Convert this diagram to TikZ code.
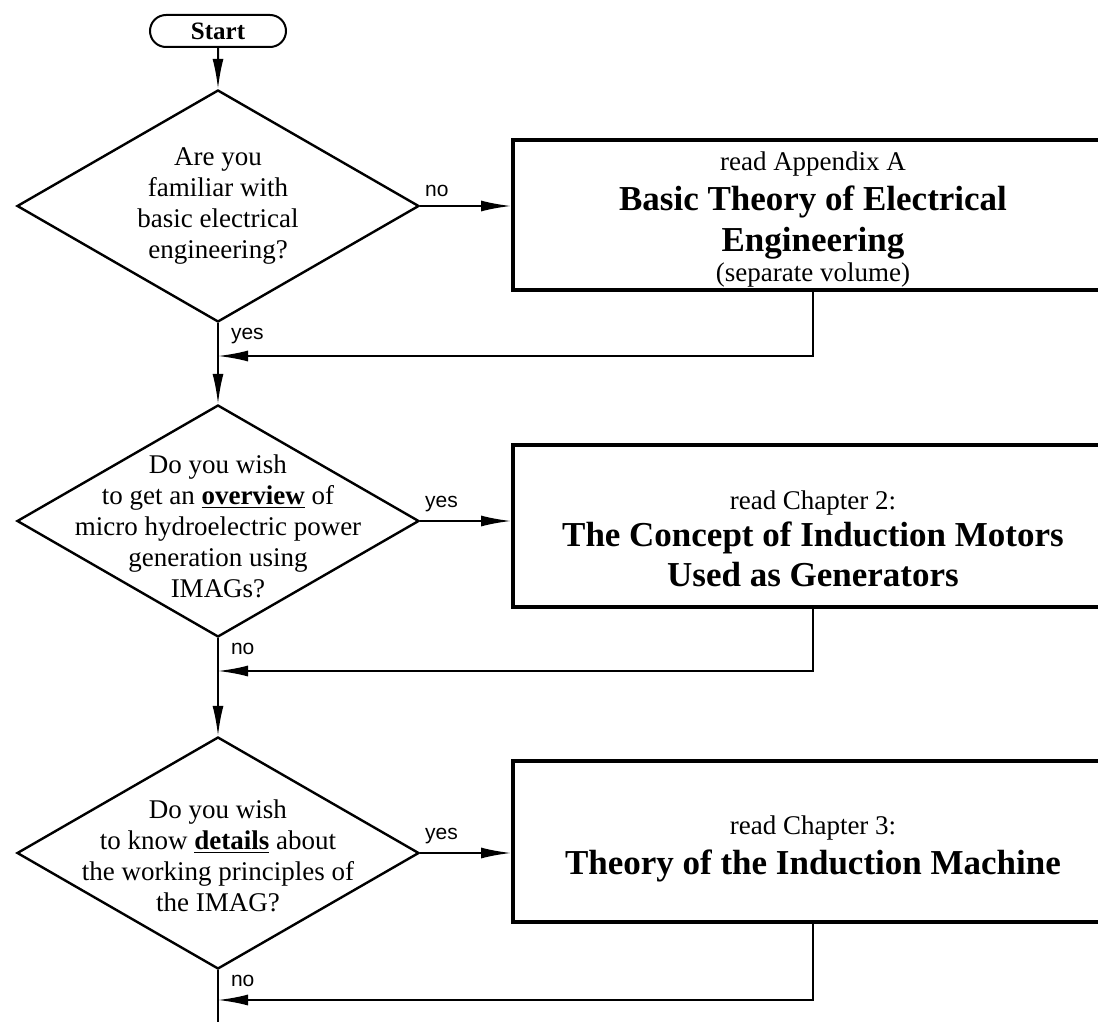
\documentclass[tikz,border=0pt]{standalone}
\usepackage{fontspec}
\setmainfont{Liberation Serif}
\newfontfamily\lblfont{Liberation Sans}
\usetikzlibrary{shapes.geometric,shapes.misc,arrows.meta,positioning}

\newcommand{\qsize}{\fontsize{13.5}{15.5}\selectfont}
\newcommand{\rdsize}{\fontsize{13.5}{17}\selectfont}
\newcommand{\ttlsize}{\fontsize{17.5}{20}\selectfont\bfseries}

\begin{document}
\begin{tikzpicture}[
x=0.5pt,
y=-0.5pt,
terminal/.style={
  rounded rectangle,
  draw,
  line width=1pt,
  minimum width=70pt,
  minimum height=16pt,
  inner sep=1pt,
  font=\fontsize{12.5}{14}\selectfont\bfseries
  },
decision/.style={
  diamond,
  draw,
  line width=1.2pt,
  minimum width=201pt,
  minimum height=116pt,
  inner sep=0pt
  },
qtext/.style={
  align=center,
  inner sep=0pt,
  font=\qsize
  },
chapter/.style={
  rectangle,
  draw,
  line width=2pt,
  minimum width=300pt,
  inner ysep=0.5pt,
  align=center,
  font=\rdsize
  },
lbl/.style={
  inner sep=2pt,
  font=\lblfont\fontsize{10.5}{12}\selectfont
  },
>={Latex[length=15pt,width=5.5pt]},
line width=1pt
]
\useasboundingbox (0,0) rectangle (1098,1022);

\node[terminal] (start) at (218,31) {Start};

% questions
\node[decision] (q1) at (218,206) {};
\node[qtext] (q1txt) at (218,206) {Are you\\familiar with\\basic electrical\\engineering?};
\node[decision] (q2) at (218,521) {};
\node[qtext] (q2txt) at (218,526) {Do you wish\\to get an \underline{\textbf{overview}} of\\micro hydroelectric power\\generation using\\IMAGs?};
\node[decision] (q3) at (218,853) {};
\node[qtext] (q3txt) at (218,856) {Do you wish\\to know \underline{\textbf{details}} about\\the working principles of\\the IMAG?};

% chapters
\node[chapter, minimum height=75pt] (app) at (813,215)
  {\rule{0pt}{14pt}read Appendix A\\[3pt]{\ttlsize Basic Theory of Electrical}\\[3.5pt]{\ttlsize Engineering}\\[-2pt](separate volume)};
\node[chapter, minimum height=81pt] (ch2) at (813,526)
  {\rule{0pt}{22pt}read Chapter 2:\\[1.5pt]{\ttlsize The Concept of Induction Motors}\\[3pt]{\ttlsize Used as Generators}};
\node[chapter, minimum height=80.5pt] (ch3) at (813,841)
  {\rule{0pt}{17pt}read Chapter 3:\\[3pt]{\ttlsize Theory of the Induction Machine}};

\coordinate (j1) at (218,356);
\coordinate (j2) at (218,671);
\coordinate (j3) at (218,1000);
\coordinate (out) at (218,1022);

\draw[->] (start) -- (q1);
\draw[->] (q1.east) -- node[lbl, pos=0, anchor=south west, yshift=2pt] {no} (app.west |- q1.east);
\draw[->] (q1.south) -- node[lbl, pos=0, anchor=north west, xshift=4pt] {yes} (q2.north);
\draw[->] (app.south) |- (j1);
\draw[->] (q2.east) -- node[lbl, pos=0, anchor=south west, yshift=2pt] {yes} (ch2.west |- q2.east);
\draw[->] (q2.south) -- node[lbl, pos=0, anchor=north west, xshift=4pt] {no} (q3.north);
\draw[->] (ch2.south) |- (j2);
\draw[->] (q3.east) -- node[lbl, pos=0, anchor=south west, yshift=2pt] {yes} (ch3.west |- q3.east);
\draw (q3.south) -- node[lbl, pos=0, anchor=north west, xshift=4pt] {no} (out);
\draw[->] (ch3.south) |- (j3);
\end{tikzpicture}
\end{document}
